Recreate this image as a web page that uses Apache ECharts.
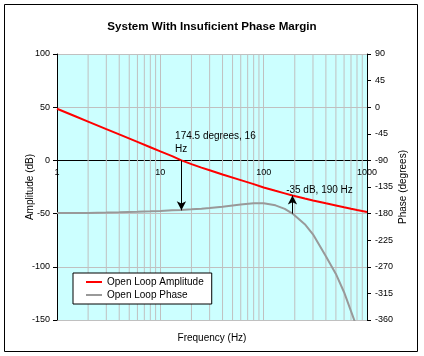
<!DOCTYPE html>
<html>
<head>
<meta charset="utf-8">
<script src="https://cdn.jsdelivr.net/npm/echarts@6/dist/echarts.min.js"></script>
<style>
html,body{margin:0;padding:0;background:#fff;}
#chart{width:424px;height:356px;}
</style>
</head>
<body>
<div id="chart"></div>
<script>
// Data
var freqs = [1, 1.5, 2, 3, 4, 6, 8, 10, 13, 16, 20, 25, 30, 40, 60, 80, 100, 130, 160, 190, 250, 300, 400, 500, 600, 700, 800, 1000];
var amplitude = [48.5, 41.5, 36.5, 29.4, 24.4, 17.4, 12.4, 8.5, 4, 0, -3.5, -6.8, -9.3, -13.2, -18.5, -22.3, -25.5, -28.6, -31, -33, -35.8, -37.6, -40.3, -42.3, -44, -45.4, -46.6, -48.5];
var phase = [-179, -179, -178.8, -178.3, -177.8, -177, -176.2, -175.5, -174.5, -173.8, -172.8, -171.6, -170.5, -168.3, -164.8, -162.5, -162.5, -166, -172, -180, -198, -215, -252, -282, -313, -345, -373, -440];
var minorFreqs = [2, 3, 4, 5, 6, 7, 8, 9, 20, 30, 40, 50, 60, 70, 80, 90, 200, 300, 400, 500, 600, 700, 800, 900];
var xTicks = [1, 10, 100, 1000];
var ampTicks = [-150, -100, -50, 0, 50, 100];
var phaseTicks = [-360, -315, -270, -225, -180, -135, -90, -45, 0, 45, 90];
var pmFreq = 16, pmPhase = -174.5;
var gmFreq = 190, gmAmp = -33;
var pmText = '174.5 degrees, 16\nHz';
var gmText = '-35 dB, 190 Hz';

function pairs(xs, ys) { return xs.map(function (x, i) { return [x, ys[i]]; }); }

var chart = echarts.init(document.getElementById('chart'), null, {renderer: 'canvas'});
var FONT = 'Liberation Sans, Arial, sans-serif';
var gridColor = '#c0c0c0';
var yMin = ampTicks[0], yMax = ampTicks[ampTicks.length - 1];

var gridSeries = minorFreqs.map(function (f) {
  return {
    name: 'grid-' + f, type: 'line', yAxisIndex: 0, z: 1, silent: true,
    data: [[f, yMin], [f, yMax]], showSymbol: false, symbol: 'none',
    lineStyle: {color: gridColor, width: 1}, itemStyle: {color: gridColor},
    emphasis: {disabled: true}, tooltip: {show: false}
  };
});

var option = {
  animation: false,
  backgroundColor: '#ffffff',
  title: [{
    text: 'System With Insuficient Phase Margin',
    left: 'center', top: 16,
    textStyle: {fontFamily: FONT, fontSize: 11.6, fontWeight: 'bold', color: '#000'}
  }, {
    text: 'Frequency (Hz)',
    left: 'center', top: 328,
    textStyle: {fontFamily: FONT, fontSize: 10, fontWeight: 'normal', color: '#000'}
  }],
  graphic: [{
    type: 'rect', silent: true, z: 100,
    shape: {x: 4.5, y: 4.5, width: 413, height: 347},
    style: {fill: 'none', stroke: '#000', lineWidth: 1}
  }],
  legend: {
    orient: 'vertical', left: 73, top: 273,
    backgroundColor: '#ffffff', borderColor: '#000', borderWidth: 1,
    padding: [4, 8, 4, 13], itemGap: 3, itemWidth: 16, itemHeight: 2,
    icon: 'rect',
    textStyle: {fontFamily: FONT, fontSize: 10, color: '#000'},
    data: [{name: 'Open Loop Amplitude', icon: 'rect'}, {name: 'Open Loop Phase', icon: 'rect'}]
  },
  grid: {
    left: 57, right: 57, top: 54, bottom: 36,
    show: true, backgroundColor: '#ccffff', borderWidth: 0
  },
  xAxis: {
    type: 'log', logBase: 10, min: xTicks[0], max: xTicks[xTicks.length - 1],
    axisLine: {show: true, onZero: true, onZeroAxisIndex: 0, lineStyle: {color: '#000', width: 1}},
    axisTick: {show: false},
    axisLabel: {show: false},
    splitLine: {show: true, lineStyle: {color: gridColor, width: 1}}
  },
  yAxis: [{
    type: 'value', min: yMin, max: yMax, interval: 50,
    name: 'Amplitude (dB)', nameLocation: 'middle', nameGap: 22, nameRotate: 90,
    nameMoveOverlap: false,
    nameTextStyle: {fontFamily: FONT, fontSize: 10, color: '#000'},
    axisLine: {show: true, onZero: false, lineStyle: {color: '#000'}},
    axisTick: {show: true, length: 4, lineStyle: {color: '#000'}},
    axisLabel: {fontFamily: FONT, fontSize: 9, color: '#000', margin: 7},
    splitLine: {show: true, lineStyle: {color: gridColor, width: 1}}
  }, {
    type: 'value', min: phaseTicks[0], max: phaseTicks[phaseTicks.length - 1], interval: 45,
    position: 'right',
    name: 'Phase (degrees)', nameLocation: 'middle', nameGap: 31, nameRotate: 90,
    nameMoveOverlap: false,
    nameTextStyle: {fontFamily: FONT, fontSize: 10, color: '#000'},
    axisLine: {show: true, onZero: false, lineStyle: {color: '#000'}},
    axisTick: {show: true, length: 4, lineStyle: {color: '#000'}},
    axisLabel: {fontFamily: FONT, fontSize: 9, color: '#000', margin: 8},
    splitLine: {show: false}
  }],
  series: gridSeries.concat([{
    name: 'x-labels', type: 'line', data: [], z: 2, silent: true,
    markPoint: {
      silent: true, symbol: 'circle', symbolSize: 1,
      itemStyle: {color: 'rgba(0,0,0,0)'},
      label: {show: true, position: 'inside', align: 'center', verticalAlign: 'middle',
        fontFamily: FONT, fontSize: 9, color: '#000'},
      data: xTicks.map(function (f) {
        return {coord: [f, -11.5], value: f, label: {formatter: String(f)}};
      })
    }
  }, {
    name: 'Open Loop Amplitude', type: 'line', yAxisIndex: 0, z: 4,
    data: pairs(freqs, amplitude), showSymbol: false, symbol: 'none',
    lineStyle: {color: '#ff0000', width: 2}, itemStyle: {color: '#ff0000'},
    markLine: {
      silent: true, symbol: ['none', 'arrow'], symbolSize: [7, 9],
      label: {show: false}, lineStyle: {color: '#000', width: 1, type: 'solid'},
      data: [[{coord: [gmFreq, -50]}, {coord: [gmFreq, gmAmp]}]]
    },
    markPoint: {
      silent: true, symbol: 'circle', symbolSize: 1,
      itemStyle: {color: 'rgba(0,0,0,0)'},
      label: {show: true, position: 'inside', align: 'left', verticalAlign: 'middle',
        fontFamily: FONT, fontSize: 10, color: '#000', lineHeight: 13},
      data: [
        {coord: [13.9, 16.5], value: pmText, label: {formatter: pmText}},
        {coord: [165, -27.7], value: gmText, label: {formatter: gmText}}
      ]
    }
  }, {
    name: 'Open Loop Phase', type: 'line', yAxisIndex: 1, z: 3,
    data: pairs(freqs, phase), showSymbol: false, symbol: 'none',
    lineStyle: {color: '#999999', width: 2}, itemStyle: {color: '#999999'},
    markLine: {
      silent: true, symbol: ['none', 'arrow'], symbolSize: [7, 9],
      label: {show: false}, lineStyle: {color: '#000', width: 1, type: 'solid'},
      data: [[{coord: [pmFreq, -90]}, {coord: [pmFreq, pmPhase]}]]
    }
  }])
};
chart.setOption(option);
</script>
</body>
</html>
